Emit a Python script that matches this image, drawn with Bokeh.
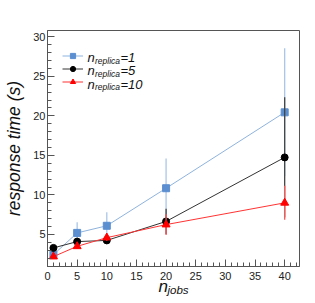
from bokeh.plotting import figure
from bokeh.models import (SingleIntervalTicker, Range1d, Label, Legend, LegendItem, Title)
from bokeh.embed import file_html
from bokeh.resources import INLINE

# ---- data ----
n_jobs = [1, 5, 10, 20, 40]
rep1_y = [2.45, 5.2, 6.1, 10.85, 20.45]
rep1_err = [0.3, 1.35, 1.7, 3.75, 8.1]
rep5_y = [3.3, 4.1, 4.25, 6.65, 14.75]
rep5_err = [0.3, 0.3, 0.3, 1.6, 7.6]
rep10_y = [2.2, 3.5, 4.6, 6.25, 9.0]
rep10_err = [0.2, 0.3, 0.4, 1.3, 2.15]
series_names = ["1", "5", "10"]
x_ticks_interval = 5
y_ticks_interval = 5

FONT = "Liberation Sans"

p = figure(width=315, height=303, output_backend="svg", toolbar_location=None,
           x_range=Range1d(0, 42.5), y_range=Range1d(0.95, 30.8),
           min_border_left=47, min_border_right=16, min_border_top=30, min_border_bottom=37)
p.background_fill_color = "white"
p.border_fill_color = "white"
p.outline_line_color = "#555555"
p.outline_line_width = 1
p.xgrid.visible = False
p.ygrid.visible = False

for ax, iv in ((p.xaxis[0], x_ticks_interval), (p.yaxis[0], y_ticks_interval)):
    ax.ticker = SingleIntervalTicker(interval=iv, num_minor_ticks=5)
    ax.major_tick_in = 7
    ax.major_tick_out = 0
    ax.minor_tick_in = 4
    ax.minor_tick_out = 0
    ax.axis_line_color = "#555555"
    ax.major_tick_line_color = "#555555"
    ax.minor_tick_line_color = "#555555"
    ax.major_label_text_font = FONT
    ax.major_label_text_font_size = "11px"
    ax.major_label_text_color = "#222222"

p.xaxis.major_label_standoff = 5
p.yaxis.major_label_standoff = 2
p.yaxis.axis_label = "response time (s)"
p.yaxis.axis_label_text_font = FONT
p.yaxis.axis_label_text_font_style = "italic"
p.yaxis.axis_label_text_font_size = "17.5px"
p.yaxis.axis_label_standoff = 6
p.yaxis.axis_label_text_color = "#111111"

styles = [
    dict(y=rep1_y, e=rep1_err, line="#8fb3dd", err="#a9c6e8", marker="square", mc="#5b8fd0", size=7),
    dict(y=rep5_y, e=rep5_err, line="#333333", err="#444444", marker="circle", mc="#000000", size=7),
    dict(y=rep10_y, e=rep10_err, line="#ff3333", err="#ff5555", marker="triangle", mc="#ff0000", size=8),
]

items = []
for s, name in zip(styles, series_names):
    lo = [v - e for v, e in zip(s["y"], s["e"])]
    hi = [v + e for v, e in zip(s["y"], s["e"])]
    p.segment(x0=n_jobs, y0=lo, x1=n_jobs, y1=hi, line_color=s["err"], line_width=1.3)
    r1 = p.line(n_jobs, s["y"], line_color=s["line"], line_width=1)
    r2 = p.scatter(n_jobs, s["y"], marker=s["marker"], size=s["size"], fill_color=s["mc"], line_color=s["mc"])
    items.append(LegendItem(label=" ", renderers=[r1, r2]))

legend = Legend(items=items, location=(15, 178), glyph_width=21, glyph_height=13, label_height=13,
                label_width=0, label_standoff=0, spacing=0, padding=0, margin=0,
                border_line_alpha=0, background_fill_alpha=0, label_text_font_size="6px")
p.add_layout(legend, "center")

# legend texts with subscripts
row_base = 209
for i, name in enumerate(series_names):
    yb = row_base - i * 13.3
    p.add_layout(Label(x=40, y=yb, x_units="screen", y_units="screen", text="n",
                       text_font=FONT, text_font_style="italic", text_font_size="13px",
                       text_baseline="alphabetic", text_color="#111111"))
    p.add_layout(Label(x=47.5, y=yb - 3, x_units="screen", y_units="screen", text="replica",
                       text_font=FONT, text_font_style="italic", text_font_size="8.5px",
                       text_baseline="alphabetic", text_color="#111111"))
    p.add_layout(Label(x=73, y=yb, x_units="screen", y_units="screen", text="=" + name,
                       text_font=FONT, text_font_style="italic", text_font_size="13px",
                       text_baseline="alphabetic", text_color="#111111"))

# x axis label with subscript, as titles in the bottom panel
t_n = Title(text="n", align="left", offset=111, vertical_align="top", standoff=-12,
            text_font=FONT, text_font_style="italic", text_font_size="17px",
            text_color="#111111")
t_jobs = Title(text="jobs", align="left", offset=120, vertical_align="top", standoff=-15,
               text_font=FONT, text_font_style="italic", text_font_size="11.5px",
               text_color="#111111")
p.add_layout(t_n, "below")
p.add_layout(t_jobs, "below")

open("out.html", "w").write(file_html(p, INLINE))
